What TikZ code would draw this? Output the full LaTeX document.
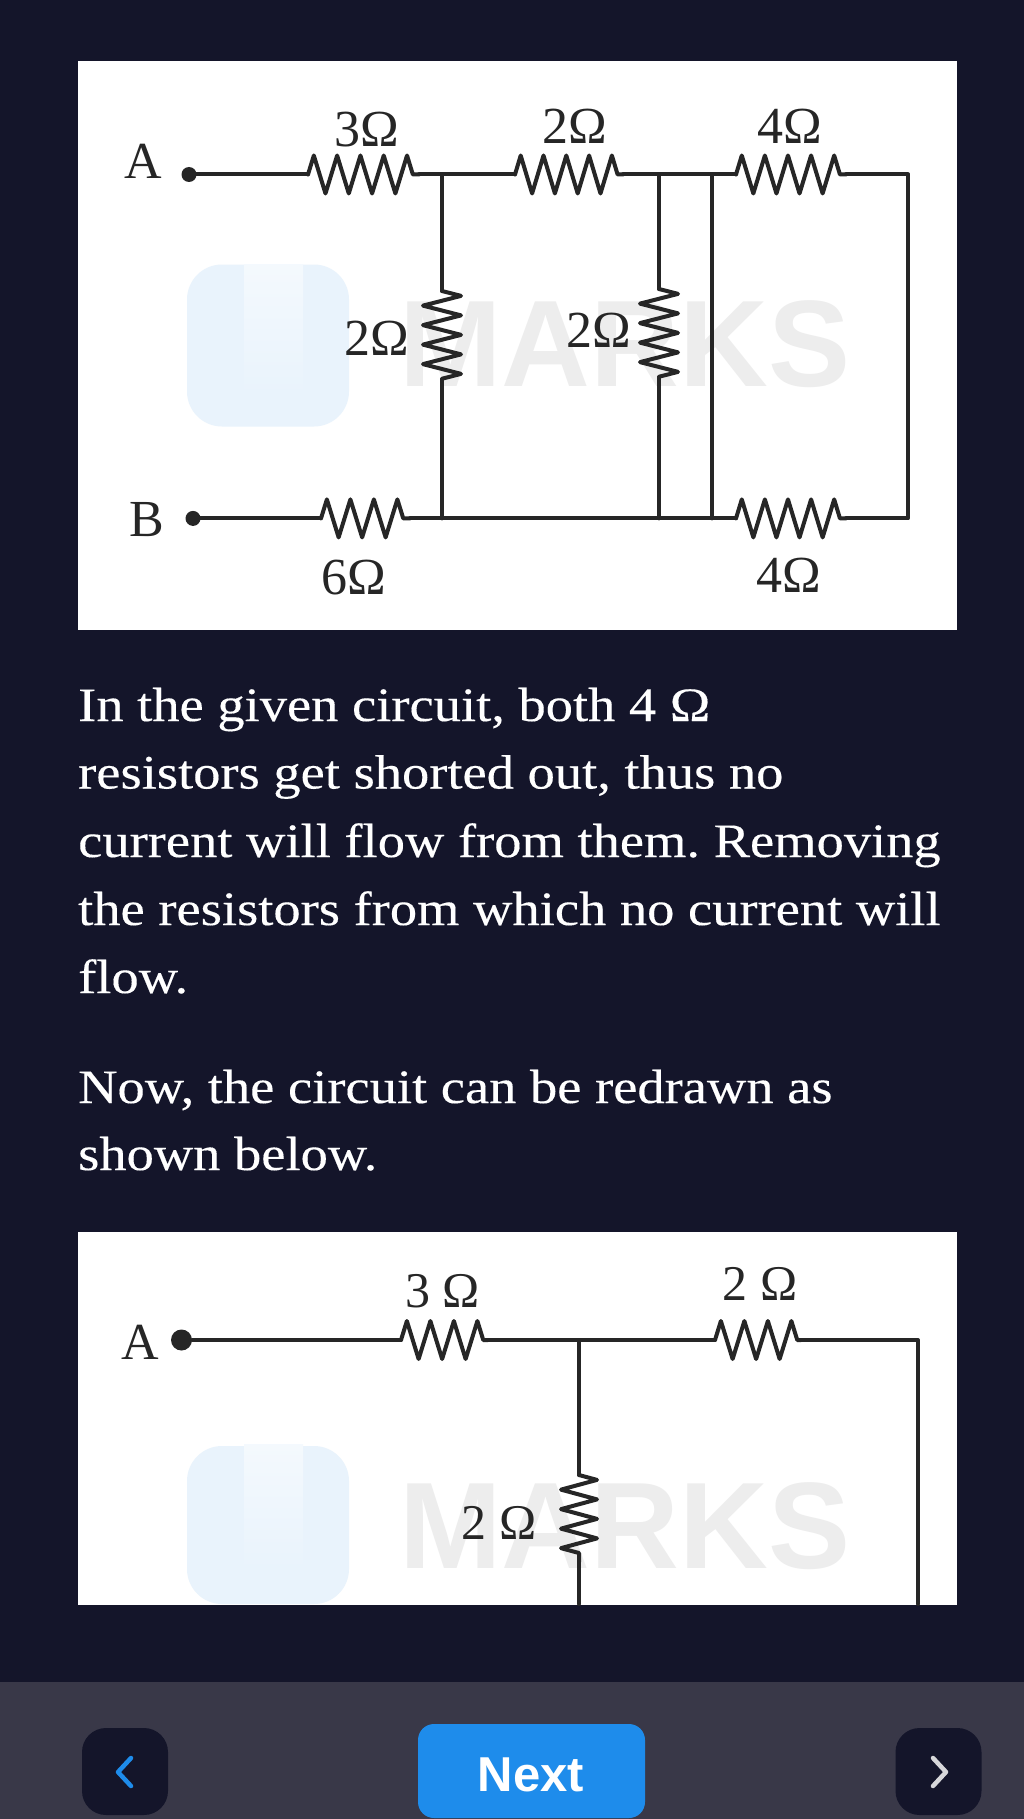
\documentclass[tikz,border=0pt]{standalone}
\usepackage{fontspec}
\setmainfont{Liberation Serif}
\newfontfamily\bodyfont[FakeStretch=1.135,FakeBold=0.25]{Liberation Serif}
\newfontfamily\wmfont{Liberation Sans}
\usetikzlibrary{decorations.pathmorphing}
\definecolor{pagebg}{HTML}{14152A}
\definecolor{barbg}{HTML}{393848}
\definecolor{btnblue}{HTML}{1E8CEB}
\definecolor{logoblue}{HTML}{E9F3FC}
\definecolor{wmgrey}{HTML}{EDEDED}
\definecolor{wire}{HTML}{262626}
\tikzset{
	panel/.style={fill=white,draw=none,inner sep=0pt,minimum width=879pt},
	wm/.style={inner sep=0pt,text=wmgrey,font=\wmfont\bfseries\fontsize{123}{123}\selectfont},
	logo/.style={fill=logoblue,rounded corners=35pt,inner sep=0pt,minimum width=162pt},
	logonotch/.style={top color=white!50!logoblue,bottom color=logoblue,inner sep=0pt,minimum width=59pt},
	lbl/.style={inner sep=0pt,text=wire,font=\fontsize{52}{52}\selectfont},
	lblb/.style={inner sep=0pt,text=wire,font=\fontsize{50}{50}\selectfont},
	bodyline/.style={anchor=base west,inner sep=0pt,text=white,font=\bodyfont\fontsize{48}{48}\selectfont\frenchspacing},
	dot/.style={circle,fill=wire,inner sep=0pt,minimum size=#1},
	wr/.style={draw=wire,line width=4pt},
	rzig/.style 2 args={wr,decorate,decoration={zigzag,amplitude=#1,segment length=#2}},
	navbtn/.style={fill=pagebg,rounded corners=24pt,inner sep=0pt,minimum width=86pt,minimum height=87pt},
	chev/.style={line width=4.5pt}
}
\begin{document}
\begin{tikzpicture}[line cap=round,line join=round,x=1pt,y=-1pt]
	\useasboundingbox[fill=pagebg] (0,0) rectangle (1024,1819);
	% first circuit
	\node[panel,minimum height=568.5pt] (panela) at (517.5,345.75) {};
	\node[logo,minimum height=162pt] (logoa) at (268,345.5) {};
	\node[logonotch,minimum height=130pt] (notcha) at (273.5,329) {};
	\node[wm] (marksa) at (625,344) {MARKS};
	\node[dot=15pt] (dota) at (189,174.5) {};
	\node[dot=15pt] (dotb) at (193,518.4) {};
	\coordinate (ra1) at (308,174.5);
	\coordinate (ra2) at (419,174.5);
	\coordinate (ja) at (442,174.5);
	\coordinate (rb1) at (515,174.5);
	\coordinate (rb2) at (623,174.5);
	\coordinate (jb) at (659,174.5);
	\coordinate (jc) at (712,174.5);
	\coordinate (rc1) at (736,174.5);
	\coordinate (rc2) at (846,174.5);
	\coordinate (ca) at (908,174.5);
	\coordinate (rd1) at (321,518.4);
	\coordinate (rd2) at (410,518.4);
	\coordinate (ka) at (442,518.4);
	\coordinate (kb) at (659,518.4);
	\coordinate (kc) at (712,518.4);
	\coordinate (re1) at (736,518.4);
	\coordinate (re2) at (846,518.4);
	\coordinate (cb) at (908,518.4);
	\coordinate (va1) at (442,291);
	\coordinate (va2) at (442,379);
	\coordinate (vb1) at (659,289);
	\coordinate (vb2) at (659,377);
	\draw[wr] (dota)--(ra1);
	\draw[rzig={19pt}{23.3pt}] (ra1)--(ra2);
	\draw[wr] (ra2)--(ja)--(rb1);
	\draw[rzig={19pt}{22.8pt}] (rb1)--(rb2);
	\draw[wr] (rb2)--(jb)--(jc)--(rc1);
	\draw[rzig={19pt}{23.1pt}] (rc1)--(rc2);
	\draw[wr] (rc2)--(ca)--(cb)--(re2);
	\draw[rzig={19pt}{23.1pt}] (re1)--(re2);
	\draw[wr] (dotb)--(rd1);
	\draw[rzig={19pt}{23.5pt}] (rd1)--(rd2);
	\draw[wr] (rd2)--(ka)--(kb)--(kc)--(re1);
	\draw[wr] (ja)--(va1);
	\draw[rzig={19pt}{19.5pt}] (va1)--(va2);
	\draw[wr] (va2)--(ka);
	\draw[wr] (jb)--(vb1);
	\draw[rzig={19pt}{19.5pt}] (vb1)--(vb2);
	\draw[wr] (vb2)--(kb);
	\draw[wr] (jc)--(kc);
	\node[lbl] (la) at (143,161) {A};
	\node[lbl] (lb) at (147,520) {B};
	\node[lbl] (lra) at (366.6,129.5) {3Ω};
	\node[lbl] (lrb) at (575,126.5) {2Ω};
	\node[lbl] (lrc) at (790,126.5) {4Ω};
	\node[lbl] (lva) at (376.5,338) {2Ω};
	\node[lbl] (lvb) at (598.5,330) {2Ω};
	\node[lbl] (lrd) at (354,577.6) {6Ω};
	\node[lbl] (lre) at (789,575) {4Ω};
	% text
	\node[bodyline] (ta) at (78,721) {In the given circuit, both 4 Ω};
	\node[bodyline] (tb) at (78,788.5) {resistors get shorted out, thus no};
	\node[bodyline] (tc) at (78,857) {current will flow from them. Removing};
	\node[bodyline] (td) at (78,925) {the resistors from which no current will};
	\node[bodyline] (te) at (78,993) {flow.};
	\node[bodyline] (tf) at (78,1103) {Now, the circuit can be redrawn as};
	\node[bodyline] (tg) at (78,1170) {shown below.};
	% second circuit
	\node[panel,minimum height=373pt] (panelb) at (517.5,1418.5) {};
	\node[logo,minimum height=158pt] (logob) at (268,1525) {};
	\node[logonotch,minimum height=125pt] (notchb) at (273.5,1507) {};
	\node[wm] (marksb) at (625,1526) {MARKS};
	\node[dot=21pt] (dotc) at (181.5,1340) {};
	\coordinate (rf1) at (401,1340);
	\coordinate (rf2) at (488,1340);
	\coordinate (jd) at (579,1340);
	\coordinate (rg1) at (715,1340);
	\coordinate (rg2) at (801,1340);
	\coordinate (cc) at (918,1340);
	\coordinate (cd) at (918,1604);
	\coordinate (vc1) at (579,1475);
	\coordinate (vc2) at (579,1562);
	\coordinate (kd) at (579,1604);
	\draw[wr] (dotc)--(rf1);
	\draw[rzig={19pt}{23.5pt}] (rf1)--(rf2);
	\draw[wr] (rf2)--(jd)--(rg1);
	\draw[rzig={19pt}{23.5pt}] (rg1)--(rg2);
	\draw[wr] (rg2)--(cc)--(cd);
	\draw[wr] (jd)--(vc1);
	\draw[rzig={18pt}{19.5pt}] (vc1)--(vc2);
	\draw[wr] (vc2)--(kd);
	\node[lbl] (lc) at (140,1342.7) {A};
	\node[lblb] (lrf) at (442.5,1291) {3 Ω};
	\node[lblb] (lrg) at (760,1284) {2 Ω};
	\node[lblb] (lvc) at (499,1523) {2 Ω};
	% bottom bar
	\fill[barbg] (0,1682) rectangle (1024,1819);
	\node[navbtn] (prevbtn) at (125,1771.5) {};
	\node[navbtn] (nextarrow) at (938.5,1771.5) {};
	\node[fill=btnblue,rounded corners=16pt,inner sep=0pt,minimum width=227pt,minimum height=94pt] (nextbtn) at (531.5,1771) {};
	\node[inner sep=0pt,text=white,font=\wmfont\bfseries\fontsize{49}{49}\selectfont] (nextlbl) at (531,1775) {Next};
	\draw[chev,color=btnblue] (131,1758)--(118,1772)--(131,1786);
	\draw[chev,color=white!80!barbg] (933,1758)--(946,1772)--(933,1786);
\end{tikzpicture}
\end{document}
